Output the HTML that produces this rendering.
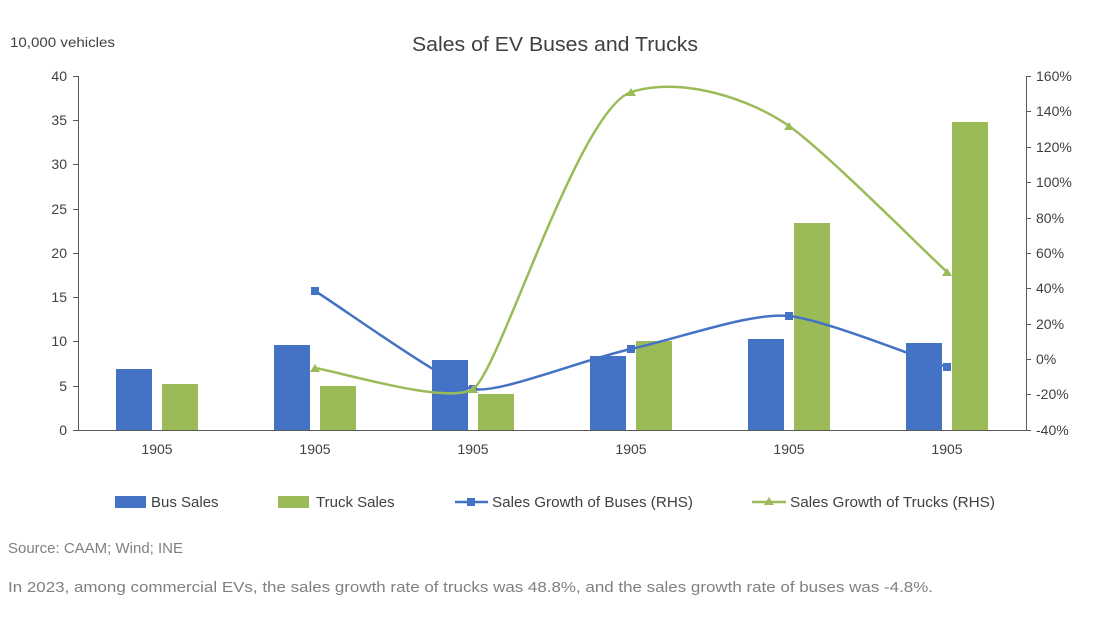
<!DOCTYPE html>
<html><head><meta charset="utf-8"><style>
html,body{margin:0;padding:0;background:#fff;}
svg{display:block;font-family:"Liberation Sans",Arial,sans-serif;}
</style></head><body>
<svg width="1095" height="619" viewBox="0 0 1095 619" xmlns="http://www.w3.org/2000/svg">
<text x="555" y="51" font-size="20" fill="#404040" text-anchor="middle" textLength="286" lengthAdjust="spacingAndGlyphs">Sales of EV Buses and Trucks</text>
<text x="10" y="47" font-size="14" fill="#404040" textLength="105" lengthAdjust="spacingAndGlyphs">10,000 vehicles</text>
<g stroke="#595959" stroke-width="1" fill="none">
<line x1="78.5" y1="76" x2="78.5" y2="430"/>
<line x1="1026.5" y1="76" x2="1026.5" y2="430"/>
<line x1="78" y1="430.5" x2="1026" y2="430.5"/>
<path d="M73 76.5h5M73 120.5h5M73 164.5h5M73 209.5h5M73 253.5h5M73 297.5h5M73 341.5h5M73 386.5h5M73 430.5h5"/>
<path d="M1026 76.5h5M1026 111.5h5M1026 147.5h5M1026 182.5h5M1026 218.5h5M1026 253.5h5M1026 288.5h5M1026 324.5h5M1026 359.5h5M1026 394.5h5M1026 430.5h5"/>
</g>
<g font-size="14" fill="#404040" text-anchor="end">
<text x="67" y="81">40</text><text x="67" y="125">35</text><text x="67" y="169">30</text><text x="67" y="214">25</text><text x="67" y="258">20</text><text x="67" y="302">15</text><text x="67" y="346">10</text><text x="67" y="391">5</text><text x="67" y="435">0</text>
</g>
<g font-size="14" fill="#404040">
<text x="1036" y="81">160%</text><text x="1036" y="116">140%</text><text x="1036" y="152">120%</text><text x="1036" y="187">100%</text><text x="1036" y="223">80%</text><text x="1036" y="258">60%</text><text x="1036" y="293">40%</text><text x="1036" y="329">20%</text><text x="1036" y="364">0%</text><text x="1036" y="399">-20%</text><text x="1036" y="435">-40%</text>
</g>
<g font-size="14" fill="#404040" text-anchor="middle">
<text x="157" y="454">1905</text><text x="315" y="454">1905</text><text x="473" y="454">1905</text><text x="631" y="454">1905</text><text x="789" y="454">1905</text><text x="947" y="454">1905</text>
</g>
<g fill="#4472C4">
<rect x="116" y="369" width="36" height="61"/>
<rect x="274" y="345" width="36" height="85"/>
<rect x="432" y="360" width="36" height="70"/>
<rect x="590" y="356" width="36" height="74"/>
<rect x="748" y="339" width="36" height="91"/>
<rect x="906" y="343" width="36" height="87"/>
</g>
<g fill="#9BBB59">
<rect x="162" y="384" width="36" height="46"/>
<rect x="320" y="386" width="36" height="44"/>
<rect x="478" y="394" width="36" height="36"/>
<rect x="636" y="341" width="36" height="89"/>
<rect x="794" y="223" width="36" height="207"/>
<rect x="952" y="122" width="36" height="308"/>
</g>
<path d="M315 291 C341 307 447 384 473 389 C499 394 578 361 631 349 C684 337 752 312 789 316 C826 320 921 359 947 367" stroke="#4472C4" stroke-width="2.5" fill="none"/>
<g fill="#4472C4"><rect x="311" y="287" width="8" height="8"/><rect x="469" y="385" width="8" height="8"/><rect x="627" y="345" width="8" height="8"/><rect x="785" y="312" width="8" height="8"/><rect x="943" y="363" width="8" height="8"/></g>
<path d="M315 368 C341 372 447 405 473 389 C499 373 578 110 631 92 C684 76 752 100 789 126 C826 152 921 248 947 272" stroke="#9BBB59" stroke-width="2.5" fill="none"/>
<g fill="#9BBB59"><path d="M315 364l5 8h-10z"/><path d="M473 385l5 8h-10z"/><path d="M631 88l5 8h-10z"/><path d="M789 122l5 8h-10z"/><path d="M947 268l5 8h-10z"/></g>
<g font-size="15" fill="#404040">
<rect x="115" y="496" width="31" height="12" fill="#4472C4"/>
<text x="151" y="507">Bus Sales</text>
<rect x="278" y="496" width="31" height="12" fill="#9BBB59"/>
<text x="316" y="507">Truck Sales</text>
<line x1="455" y1="502" x2="488" y2="502" stroke="#4472C4" stroke-width="2.5"/><rect x="467" y="498" width="8" height="8" fill="#4472C4"/>
<text x="492" y="507" textLength="201" lengthAdjust="spacingAndGlyphs">Sales Growth of Buses (RHS)</text>
<line x1="752" y1="502" x2="786" y2="502" stroke="#9BBB59" stroke-width="2.5"/><path d="M769 497l5 8h-10z" fill="#9BBB59"/>
<text x="790" y="507" textLength="205" lengthAdjust="spacingAndGlyphs">Sales Growth of Trucks (RHS)</text>
</g>
<text x="8" y="553" font-size="15" fill="#808080" textLength="175" lengthAdjust="spacingAndGlyphs">Source: CAAM; Wind; INE</text>
<text x="8" y="592" font-size="15" fill="#808080" textLength="925" lengthAdjust="spacingAndGlyphs">In 2023, among commercial EVs, the sales growth rate of trucks was 48.8%, and the sales growth rate of buses was -4.8%.</text>
</svg>
</body></html>
